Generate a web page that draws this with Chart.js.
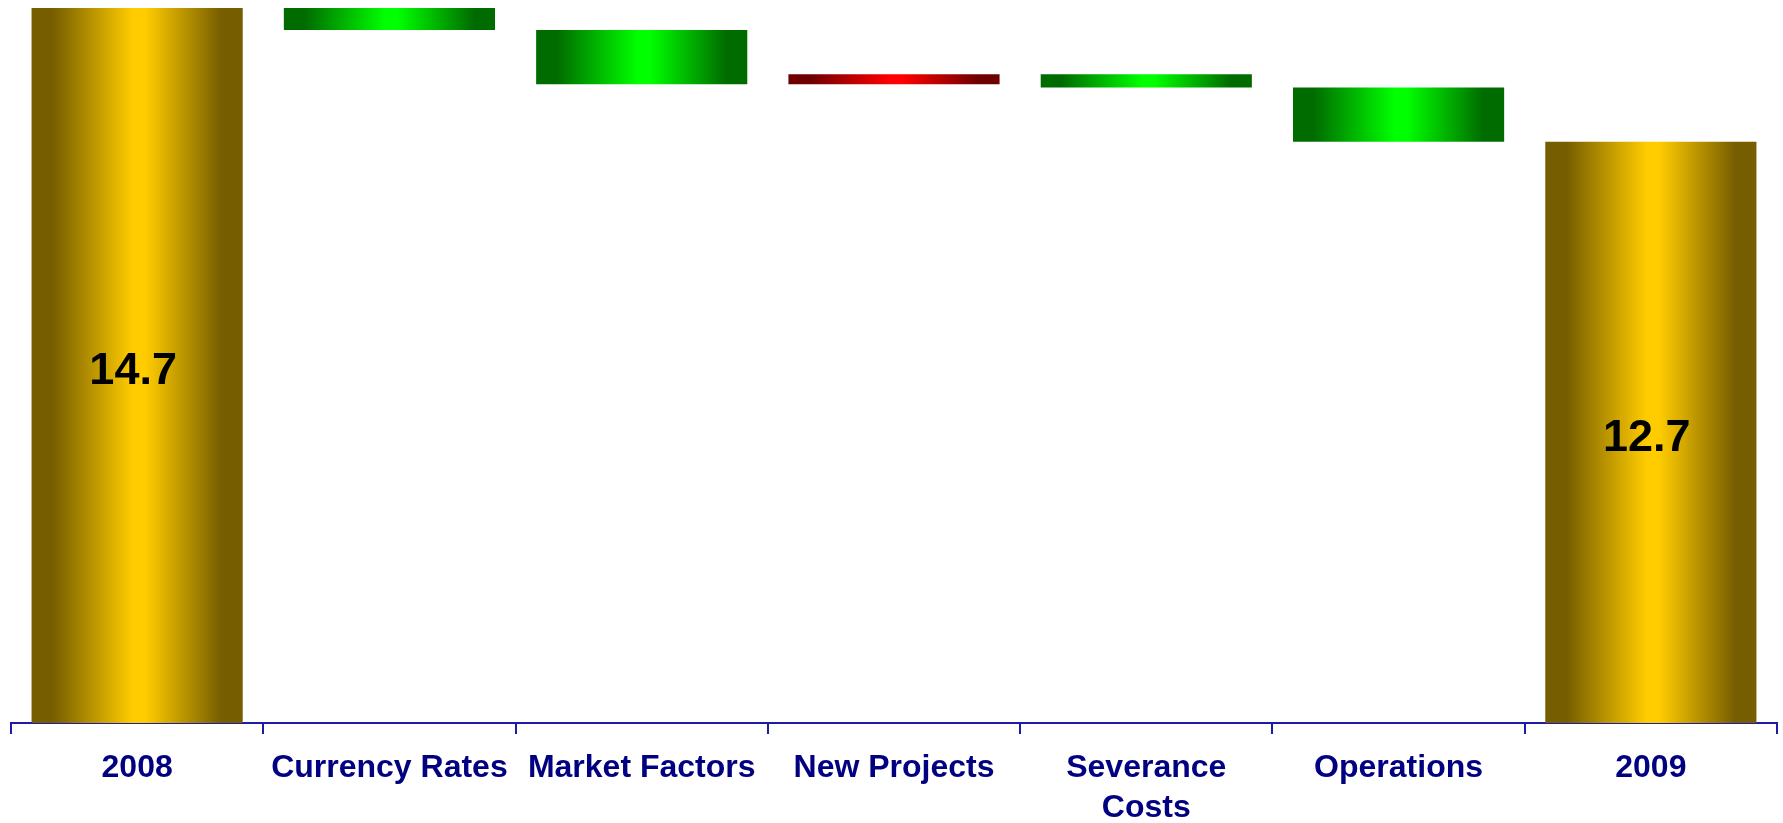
<!DOCTYPE html>
<html>
<head>
<meta charset="utf-8">
<title>Cost bridge 2008 - 2009</title>
<script src="https://cdn.jsdelivr.net/npm/chart.js@4.4.1/dist/chart.umd.min.js"></script>
<style>
  html, body { margin: 0; padding: 0; background: #fff; }
  #wrap { width: 1783px; height: 823px; }
</style>
</head>
<body>
<div id="wrap"><canvas id="bridgeChart"></canvas></div>
<script>
// Data
const categories = ["2008", "Currency Rates", "Market Factors", "New Projects", ["Severance", "Costs"], "Operations", "2009"];
const startTotal = 14.7;
const endTotal = 12.7;
const changes = [-0.33, -0.81, 0.15, -0.2, -0.81];
const axisMin = 4;
const axisMax = 14.7;

const BAR_PCT = 0.837;

// Build floating ranges: totals from zero, steps from running level
const ranges = [[0, startTotal]];
let level = startTotal;
changes.forEach(d => {
  ranges.push([level, level + d]);
  level += d;
});
ranges.push([0, endTotal]);

const isTotal = i => i === 0 || i === categories.length - 1;

// Edge / centre colours for the horizontal shading of each bar
function barStops(i) {
  if (isTotal(i)) return ["#765d00", "#ffcc00"];
  return changes[i - 1] < 0 ? ["#006c00", "#00ff00"] : ["#6e0000", "#ff0000"];
}

function barFill(c) {
  const chart = c.chart;
  const x = chart.scales.x;
  const [edge, mid] = barStops(c.dataIndex);
  if (!x || !chart.chartArea) return mid;
  const center = x.getPixelForValue(c.dataIndex);
  const half = (x.width / categories.length) * BAR_PCT / 2;
  const g = chart.ctx.createLinearGradient(center - half, 0, center + half, 0);
  g.addColorStop(0, edge);
  g.addColorStop(0.1, edge);
  g.addColorStop(0.48, mid);
  g.addColorStop(0.54, mid);
  g.addColorStop(0.9, edge);
  g.addColorStop(1, edge);
  return g;
}

// Value labels inside the two total bars
const totalLabels = {
  id: "totalLabels",
  afterDatasetsDraw(chart) {
    const { ctx, chartArea } = chart;
    const meta = chart.getDatasetMeta(0);
    ctx.save();
    ctx.font = "bold 45px 'Liberation Sans', Arial, sans-serif";
    ctx.fillStyle = "#000";
    ctx.textAlign = "center";
    ctx.textBaseline = "middle";
    [0, categories.length - 1].forEach(i => {
      const bar = meta.data[i];
      const bottom = Math.min(bar.base, chartArea.bottom);
      const value = i === 0 ? startTotal : endTotal;
      ctx.fillText(value.toFixed(1), bar.x - 4, (bar.y + bottom) / 2 + 6);
    });
    ctx.restore();
  }
};

new Chart(document.getElementById("bridgeChart"), {
  type: "bar",
  data: {
    labels: categories,
    datasets: [{
      data: ranges,
      backgroundColor: barFill,
      borderWidth: 0,
      categoryPercentage: 1,
      barPercentage: BAR_PCT
    }]
  },
  options: {
    responsive: true,
    maintainAspectRatio: false,
    animation: false,
    layout: { padding: { top: 8, left: 11, right: 6, bottom: 0 } },
    plugins: {
      legend: { display: false },
      tooltip: { enabled: false }
    },
    scales: {
      y: {
        display: false,
        min: axisMin,
        max: axisMax
      },
      x: {
        afterFit: scale => { scale.height = 100; },
        border: { display: true, color: "#1c1ca6", width: 2 },
        grid: {
          offset: true,
          drawOnChartArea: false,
          drawTicks: true,
          tickLength: 11,
          color: "#1c1ca6",
          lineWidth: 2
        },
        ticks: {
          color: "#000080",
          font: { family: "'Liberation Sans', Arial, sans-serif", weight: "bold", size: 32, lineHeight: 1.25 },
          padding: 14,
          maxRotation: 0,
          autoSkip: false
        }
      }
    }
  },
  plugins: [totalLabels]
});
</script>
</body>
</html>
